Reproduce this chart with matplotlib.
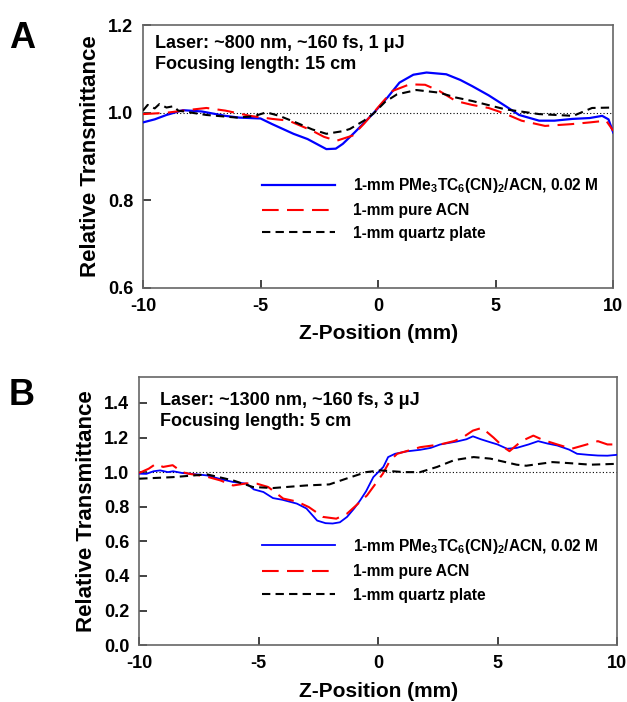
import matplotlib
matplotlib.use("Agg")
import matplotlib.pyplot as plt

plt.rcParams['font.family'] = ['Liberation Sans', 'DejaVu Sans']
plt.rcParams['font.weight'] = 'bold'
plt.rcParams['mathtext.fontset'] = 'custom'
plt.rcParams['mathtext.rm'] = 'Liberation Sans:bold'
plt.rcParams['mathtext.default'] = 'rm'

# ---- Panel A data ----
a_blue_x = [-10, -9.5, -9, -8.3, -7.5, -6.5, -5.9, -5, -4.5, -3.6, -3, -2.2, -1.8, -1.5, -1, -0.23,
            0.4, 0.91, 1.5, 2.06, 2.9, 3.5, 4.0, 4.7, 5.4, 6.0, 6.85, 7.5, 8.26, 9, 9.53, 9.8, 10]
a_blue_y = [0.978, 0.985, 0.995, 1.006, 1.003, 0.993, 0.989, 0.987, 0.974, 0.952, 0.94, 0.917, 0.918,
            0.929, 0.955, 0.997, 1.035, 1.069, 1.087, 1.092, 1.088, 1.075, 1.061, 1.04, 1.016, 0.995,
            0.982, 0.982, 0.986, 0.988, 0.993, 0.985, 0.955]
a_red_x = [-10, -9, -8.3, -7.3, -6.5, -5.45, -4.5, -3.8, -2.8, -2.3, -1.77, -1.08, -0.6, -0.23, 0.2,
           0.62, 1.34, 2.0, 2.6, 3.3, 4.0, 4.7, 5.4, 6.1, 7.1, 8.2, 9.0, 9.7, 10]
a_red_y = [0.997, 1.0, 1.005, 1.011, 1.005, 0.993, 0.986, 0.982, 0.959, 0.945, 0.936, 0.948, 0.975,
           0.998, 1.025, 1.05, 1.065, 1.064, 1.05, 1.027, 1.018, 1.011, 0.998, 0.982, 0.970, 0.974,
           0.978, 0.982, 0.959]
a_blk_x = [-10, -9.8, -9.5, -9.3, -9.0, -8.7, -8.5, -7.3, -6, -5.3, -4.75, -4.2, -3.5, -2.8, -2.2,
           -1.5, -1.2, -0.6, -0.2, 0.3, 0.8, 1.63, 2.6, 3.3, 4.0, 5.4, 6.85, 8.3, 9.1, 10]
a_blk_y = [1.005, 1.018, 1.01, 1.02, 1.012, 1.015, 1.005, 0.995, 0.989, 0.992, 1.001, 0.993, 0.978,
           0.962, 0.952, 0.958, 0.963, 0.982, 0.998, 1.025, 1.042, 1.052, 1.046, 1.035, 1.027, 1.008,
           0.997, 0.993, 1.011, 1.012]

# ---- Panel B data ----
b_blue_x = [-10, -9.7, -9.4, -9.12, -8.8, -8.58, -8.2, -7.8, -7.16, -6.6, -6.07, -5.5, -5.2, -4.8,
            -4.4, -4.0, -3.4, -3.0, -2.55, -2.2, -1.9, -1.6, -1.3, -1.0, -0.75, -0.5, -0.2, 0.22,
            0.42, 0.71, 1.2, 1.76, 2.2, 2.6, 3.3, 3.7, 3.97, 4.3, 4.69, 5.0, 5.4, 5.8, 6.3, 6.7,
            7.1, 7.5, 8.0, 8.33, 8.8, 9.2, 9.6, 10]
b_blue_y = [0.991, 0.99, 1.005, 1.01, 1.0, 1.005, 0.995, 0.99, 0.981, 0.96, 0.943, 0.933, 0.9, 0.885,
            0.85, 0.84, 0.818, 0.79, 0.72, 0.705, 0.703, 0.71, 0.741, 0.79, 0.837, 0.89, 0.971, 1.03,
            1.087, 1.106, 1.12, 1.129, 1.14, 1.16, 1.177, 1.19, 1.207, 1.19, 1.173, 1.16, 1.135,
            1.14, 1.16, 1.179, 1.165, 1.154, 1.13, 1.106, 1.1, 1.096, 1.095, 1.1]
b_red_x = [-10, -9.6, -9.3, -9.0, -8.6, -8.2, -7.9, -7.2, -6.6, -6.07, -5.5, -5.07, -4.6, -3.97,
           -3.4, -2.9, -2.3, -1.75, -1.3, -0.9, -0.46, 0.2, 0.5, 0.8, 1.76, 2.6, 3.2, 3.56, 3.97,
           4.35, 4.83, 5.26, 5.5, 6.0, 6.5, 6.9, 7.5, 8.1, 8.74, 9.2, 9.6, 10]
b_red_y = [0.995, 1.02, 1.048, 1.03, 1.04, 1.0, 0.99, 0.975, 0.952, 0.923, 0.935, 0.933, 0.914, 0.847,
           0.83, 0.798, 0.741, 0.731, 0.76, 0.81, 0.866, 0.991, 1.067, 1.106, 1.144, 1.16, 1.18,
           1.202, 1.24, 1.256, 1.2, 1.144, 1.121, 1.179, 1.211, 1.186, 1.16, 1.135, 1.16, 1.179,
           1.16, 1.16]
b_blk_x = [-10, -8.6, -7.16, -6.07, -5.24, -4.4, -3.0, -2.04, -1.34, -0.5, 0.1, 1.1, 1.76, 2.47, 3.2,
           4.0, 4.7, 5.8, 6.2, 7.3, 8.0, 8.9, 10]
b_blk_y = [0.962, 0.971, 0.987, 0.952, 0.914, 0.908, 0.923, 0.929, 0.962, 1.0, 1.01, 1.0, 1.0, 1.03,
           1.07, 1.087, 1.078, 1.043, 1.037, 1.058, 1.052, 1.043, 1.048]

labels = [r"1-mm PMe$_3$TC$_6$(CN)$_2$/ACN, 0.02 M", "1-mm pure ACN", "1-mm quartz plate"]
xticks = [-10, -5, 0, 5, 10]

fig = plt.figure(figsize=(6.27, 7.02), dpi=100)
axA = fig.add_axes([0.228, 0.590, 0.750, 0.374])
axB = fig.add_axes([0.222, 0.081, 0.762, 0.382])


def style(ax, ylim, yticks, ylabels):
    ax.set_xlim(-10, 10)
    ax.set_ylim(*ylim)
    ax.set_xticks(xticks)
    ax.set_xticklabels([str(t) for t in xticks])
    ax.set_yticks(yticks)
    ax.set_yticklabels(ylabels)
    ax.tick_params(direction='in', length=6, width=1.2, labelsize=13, pad=7, color='#222222')
    for s in ax.spines.values():
        s.set_color('#666666')
        s.set_linewidth(1.2)
    for lab in ax.get_xticklabels() + ax.get_yticklabels():
        lab.set_fontweight('bold')
    ax.set_xlabel("Z-Position (mm)", fontsize=15, fontweight='bold', labelpad=7)
    ax.set_ylabel("Relative Transmittance", fontsize=16, fontweight='bold', labelpad=5)
    ax.axhline(1.0, color='black', linestyle=(0, (1, 2)), linewidth=0.8, zorder=1)


def curves(ax, bx, by, rx, ry, kx, ky, lw_b):
    l1, = ax.plot(bx, by, color='#0000ff', linewidth=lw_b, zorder=3)
    l2, = ax.plot(rx, ry, color='#ff0000', linewidth=1.5, dashes=(8, 4), zorder=4)
    l3, = ax.plot(kx, ky, color='black', linewidth=1.5, dashes=(4, 2.5), zorder=5)
    return [l1, l2, l3]

# Panel A
style(axA, (0.6, 1.2), [0.6, 0.8, 1.0, 1.2], ["0.6", "0.8", "1.0", "1.2"])
hA = curves(axA, a_blue_x, a_blue_y, a_red_x, a_red_y, a_blk_x, a_blk_y, 1.6)
axA.text(0.025, 0.962, "Laser: ~800 nm, ~160 fs, 1 \u03bcJ\nFocusing length: 15 cm",
         transform=axA.transAxes, fontsize=13, fontweight='bold', va='top', ha='left',
         linespacing=1.3)
axA.legend(hA, labels, loc='upper left', bbox_to_anchor=(0.253, 0.425), frameon=False,
           handlelength=4.7, handletextpad=1.15, borderpad=0, borderaxespad=0,
           labelspacing=0.5, prop={'weight': 'bold', 'size': 11.2})

# Panel B
style(axB, (0.0, 1.55), [0.0, 0.2, 0.4, 0.6, 0.8, 1.0, 1.2, 1.4],
      ["0.0", "0.2", "0.4", "0.6", "0.8", "1.0", "1.2", "1.4"])
hB = curves(axB, b_blue_x, b_blue_y, b_red_x, b_red_y, b_blk_x, b_blk_y, 1.3)
axB.text(0.044, 0.945, "Laser: ~1300 nm, ~160 fs, 3 \u03bcJ\nFocusing length: 5 cm",
         transform=axB.transAxes, fontsize=13, fontweight='bold', va='top', ha='left',
         linespacing=1.3)
axB.legend(hB, labels, loc='upper left', bbox_to_anchor=(0.257, 0.405), frameon=False,
           handlelength=4.7, handletextpad=1.15, borderpad=0, borderaxespad=0,
           labelspacing=0.55, prop={'weight': 'bold', 'size': 11.2})

fig.text(0.014, 0.97, "A", fontsize=26, fontweight='bold', va='top', ha='left')
fig.text(0.014, 0.462, "B", fontsize=26, fontweight='bold', va='top', ha='left')

fig.savefig("out.png", dpi=100)
